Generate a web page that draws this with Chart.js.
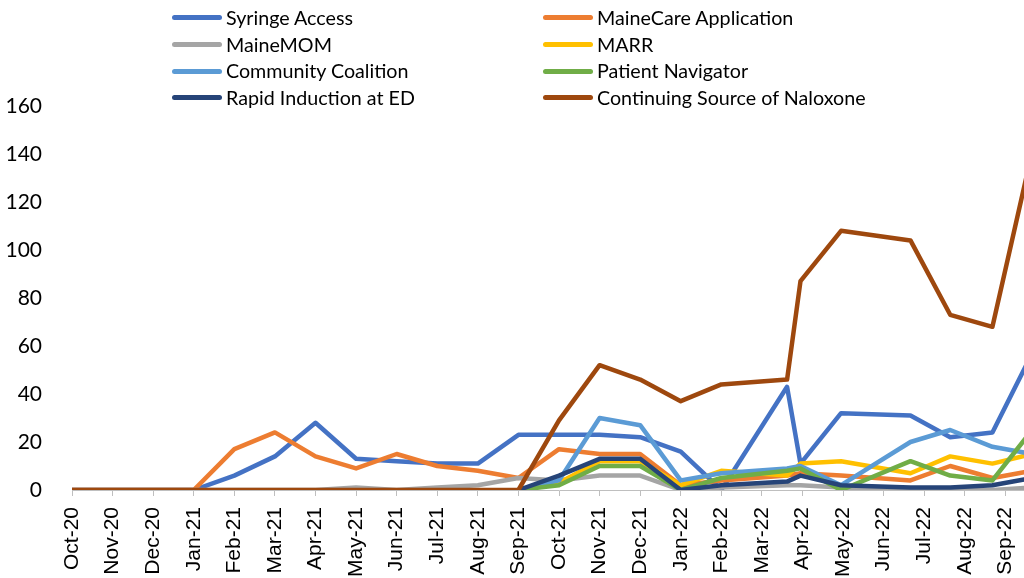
<!DOCTYPE html>
<html>
<head>
<meta charset="utf-8">
<script src="https://cdn.jsdelivr.net/npm/chart.js@4.4.1/dist/chart.umd.min.js"></script>
<style>
  html, body { margin: 0; padding: 0; background: #fff; overflow: hidden; }
  #wrap { position: relative; width: 1024px; height: 578px; overflow: hidden; }
  #chart { position: absolute; left: 0; top: 0; }
  .leg { position: absolute; display: flex; align-items: center; font-family: Lato, sans-serif;
         font-size: 19.7px; color: #000; line-height: 1; white-space: nowrap; }
  .leg i { display: inline-block; width: 50px; height: 5px; border-radius: 2.5px; margin-right: 4px; }
</style>
</head>
<body>
<div id="wrap">
  <canvas id="chart" width="1046" height="590"></canvas>
  <div id="legend"></div>
</div>
<script>
// month tick labels (index 0 = Oct-20)
const monthLabels = ['Oct-20','Nov-20','Dec-20','Jan-21','Feb-21','Mar-21','Apr-21','May-21','Jun-21',
  'Jul-21','Aug-21','Sep-21','Oct-21','Nov-21','Dec-21','Jan-22','Feb-22','Mar-22','Apr-22','May-22',
  'Jun-22','Jul-22','Aug-22','Sep-22','Oct-22'];

// where each reading sits on the month axis (some readings are mid-month)
const pointMonths = [0,1,2,3,4,5,6,7,8,9,10,11,12,13,14,15,16,17.62,17.95,18.95,20.66,21.64,22.68,23.66];

const seriesNames = ['Syringe Access','MaineCare Application','MaineMOM','MARR',
  'Community Coalition','Patient Navigator','Rapid Induction at ED','Continuing Source of Naloxone'];
const seriesColors = ['#4472C4','#ED7D31','#A5A5A5','#FFC000','#5B9BD5','#70AD47','#264478','#9E480E'];

const syringe   = [0,0,0,0,6,14,28,13,12,11,11,23,23,23,22,16,0,43,11,32,31,22,24,57];
const mainecare = [0,0,0,0,17,24,14,9,15,10,8,5,17,15,15,2,4,6,7,6,4,10,5,8];
const mainemom  = [0,0,0,0,0,0,0,1,0,1,2,5,4,6,6,0,1,2,2,1,0,0,0,1];
const marr      = [null,null,null,null,null,null,null,null,null,null,null,0,3,12,12,2,8,6,11,12,7,14,11,15];
const coalition = [null,null,null,null,null,null,null,null,null,null,null,0,4,30,27,4,7,9,10,2,20,25,18,15];
const navigator_ = [null,null,null,null,null,null,null,null,null,null,null,0,2,10,10,0,5,8,9,0,12,6,4,25];
const rapid     = [null,null,null,null,null,null,null,null,null,null,null,0,6,13,13,0,2,3.5,6,2,1,1,2,5];
const naloxone  = [0,0,0,0,0,0,0,0,0,0,0,0,29,52,46,37,44,46,87,108,104,73,68,141];

const seriesValues = [syringe, mainecare, mainemom, marr, coalition, navigator_, rapid, naloxone];

// html legend, two columns
const legend = document.getElementById('legend');
seriesNames.forEach((name, i) => {
  const d = document.createElement('div');
  d.className = 'leg';
  d.style.left = (i % 2 ? 543 : 172) + 'px';
  d.style.top = (8 + Math.floor(i / 2) * 26.7) + 'px';
  d.innerHTML = '<i style="background:' + seriesColors[i] + '"></i><span>' + name + '</span>';
  legend.appendChild(d);
});

const ctx = document.getElementById('chart').getContext('2d');
const chart = new Chart(ctx, {
  type: 'line',
  data: {
    datasets: seriesNames.map((name, i) => ({
      label: name,
      data: pointMonths.map((m, j) => ({ x: m, y: seriesValues[i][j] })),
      borderColor: seriesColors[i],
      backgroundColor: seriesColors[i],
      borderWidth: 4.5,
      borderJoinStyle: 'round',
      borderCapStyle: 'round',
      pointRadius: 0,
      tension: 0,
      fill: false,
      order: seriesNames.length - i
    }))
  },
  options: {
    responsive: false,
    animation: false,
    layout: { padding: { top: 106, right: 0, left: 0, bottom: 0 } },
    plugins: { legend: { display: false }, tooltip: { enabled: false } },
    scales: {
      x: {
        type: 'linear',
        min: 0,
        max: 24,
        afterFit: s => { s.height = 100; s.paddingLeft = 0; s.paddingRight = 0; },
        afterBuildTicks: s => { s.ticks = monthLabels.map((l, i) => ({ value: i })); },
        grid: { drawOnChartArea: false, drawTicks: true, tickLength: 6, color: '#bfbfbf' },
        border: { color: '#bfbfbf', width: 1 },
        ticks: {
          autoSkip: false,
          maxRotation: 90,
          minRotation: 90,
          padding: 11,
          color: '#000',
          font: { family: 'Liberation Sans', size: 21 },
          callback: v => monthLabels[v]
        }
      },
      y: {
        min: 0,
        max: 160,
        afterFit: s => { s.width = 72; },
        grid: { display: false },
        border: { display: false },
        ticks: { stepSize: 20, padding: 22, color: '#000', font: { family: 'Lato', size: 21 } }
      }
    }
  }
});
</script>
</body>
</html>
